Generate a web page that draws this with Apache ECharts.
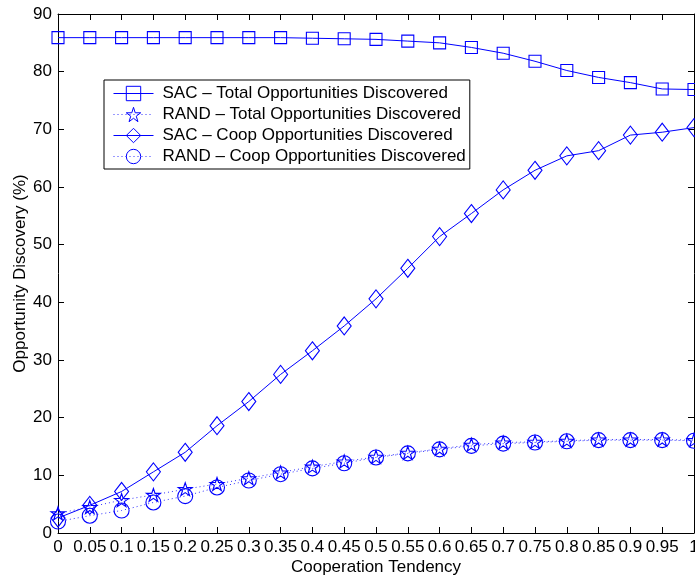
<!DOCTYPE html>
<html>
<head>
<meta charset="utf-8">
<script src="https://cdn.jsdelivr.net/npm/echarts@6/dist/echarts.min.js"></script>
<style>
  html, body { margin: 0; padding: 0; background: #fff; }
  #chart { width: 695px; height: 581px; }
</style>
</head>
<body>
<div id="chart"></div>
<script>
// Cooperation tendency (x) and discovery percentages for each strategy
const tendency = [0, 0.05, 0.1, 0.15, 0.2, 0.25, 0.3, 0.35, 0.4, 0.45, 0.5,
                  0.55, 0.6, 0.65, 0.7, 0.75, 0.8, 0.85, 0.9, 0.95, 1];
const sacTotal  = [85.9, 85.9, 85.9, 85.9, 85.9, 85.9, 85.9, 85.9, 85.8, 85.7, 85.6,
                   85.3, 85.0, 84.2, 83.2, 81.8, 80.2, 79.0, 78.1, 77.0, 76.9];
const randTotal = [3.4, 4.5, 5.7, 6.6, 7.6, 8.5, 9.5, 10.5, 11.5, 12.4, 13.2,
                   13.9, 14.6, 15.3, 15.7, 15.8, 16.0, 16.2, 16.2, 16.2, 16.1];
const sacCoop   = [2.6, 4.8, 7.2, 10.6, 14.0, 18.6, 22.8, 27.5, 31.6, 35.9, 40.6,
                   45.9, 51.4, 55.4, 59.5, 62.9, 65.4, 66.3, 69.0, 69.5, 70.3];
const randCoop  = [2.0, 3.0, 3.9, 5.3, 6.4, 7.9, 9.1, 10.2, 11.2, 12.1, 13.1,
                   13.8, 14.5, 15.1, 15.5, 15.7, 15.9, 16.1, 16.1, 16.1, 16.0];
const seriesNames = [
  'SAC \u2013 Total Opportunities Discovered',
  'RAND \u2013 Total Opportunities Discovered',
  'SAC \u2013 Coop Opportunities Discovered',
  'RAND \u2013 Coop Opportunities Discovered'
];
const dottedFlags = [false, true, false, true];

const BLUE = '#0000ff';
const FONT = '"Liberation Sans", Arial, Helvetica, sans-serif';
const FS = 17;
const STAR = 'path://M50,0 L61.2,34.5 L97.6,34.5 L68.2,55.9 L79.4,90.5 L50,69.1 L20.6,90.5 L31.8,55.9 L2.4,34.5 L38.8,34.5 Z';

function pairs(ys) { return tendency.map((x, i) => [x, ys[i]]); }

function lineStyleFor(dotted) {
  return { color: BLUE, width: 1, type: dotted ? [1, 3] : 'solid', opacity: dotted ? 0.8 : 1 };
}

function lineSeries(name, ys, symbol, size, dotted) {
  return {
    name: name,
    type: 'line',
    data: pairs(ys),
    symbol: symbol,
    symbolSize: size,
    showAllSymbol: true,
    clip: false,
    animation: false,
    color: BLUE,
    lineStyle: lineStyleFor(dotted),
    itemStyle: { color: 'rgba(0,0,0,0)', borderColor: BLUE, borderWidth: 1.1 },
    emphasis: { disabled: true }
  };
}

const tickCommon = { show: true, inside: true, length: 6, lineStyle: { color: '#000', width: 1 } };
const lineCommon = { show: true, onZero: false, lineStyle: { color: '#000', width: 1 } };

const chart = echarts.init(document.getElementById('chart'), null, { renderer: 'canvas' });
chart.setOption({
  backgroundColor: '#fff',
  animation: false,
  textStyle: { fontFamily: FONT },
  grid: { left: 58, right: 1, top: 14, bottom: 48, containLabel: false, outerBoundsMode: 'none' },
  legend: {
    orient: 'vertical',
    left: 104,
    top: 80,
    data: seriesNames.map((n, i) => ({
      name: n,
      itemStyle: { color: 'rgba(0,0,0,0)', borderColor: BLUE, borderWidth: 1 },
      lineStyle: lineStyleFor(dottedFlags[i])
    })),
    backgroundColor: '#fff',
    borderColor: '#000',
    borderWidth: 1,
    padding: [5, 4, 4, 9],
    itemWidth: 40,
    itemHeight: 18,
    itemGap: 4,
    selectedMode: false,
    textStyle: { fontFamily: FONT, fontSize: FS, lineHeight: 16, color: '#000', padding: [0, 0, 0, 4] }
  },
  xAxis: [
    {
      type: 'value', min: 0, max: 1, interval: 0.05, position: 'bottom',
      name: 'Cooperation Tendency', nameLocation: 'middle', nameGap: 26, nameMoveOverlap: false,
      nameTextStyle: { fontFamily: FONT, fontSize: FS, color: '#000' },
      axisLine: lineCommon, axisTick: tickCommon,
      axisLabel: { show: true, margin: 6, fontFamily: FONT, fontSize: FS, color: '#000' },
      splitLine: { show: false }
    },
    {
      type: 'value', min: 0, max: 1, interval: 0.05, position: 'top',
      axisLine: lineCommon, axisTick: tickCommon,
      axisLabel: { show: false }, splitLine: { show: false }
    }
  ],
  yAxis: [
    {
      type: 'value', min: 0, max: 90, interval: 10, position: 'left',
      name: 'Opportunity Discovery (%)', nameLocation: 'middle', nameGap: 29, nameMoveOverlap: false,
      nameTextStyle: { fontFamily: FONT, fontSize: FS, color: '#000' },
      axisLine: lineCommon, axisTick: tickCommon,
      axisLabel: { show: true, margin: 6, fontFamily: FONT, fontSize: FS, color: '#000' },
      splitLine: { show: false }
    },
    {
      type: 'value', min: 0, max: 90, interval: 10, position: 'right',
      axisLine: lineCommon, axisTick: tickCommon,
      axisLabel: { show: false }, splitLine: { show: false }
    }
  ],
  series: [
    lineSeries(seriesNames[0], sacTotal, 'rect', 12, false),
    lineSeries(seriesNames[1], randTotal, STAR, [14, 13], true),
    lineSeries(seriesNames[2], sacCoop, 'diamond', [14, 18], false),
    lineSeries(seriesNames[3], randCoop, 'circle', 15, true)
  ]
});
</script>
</body>
</html>
